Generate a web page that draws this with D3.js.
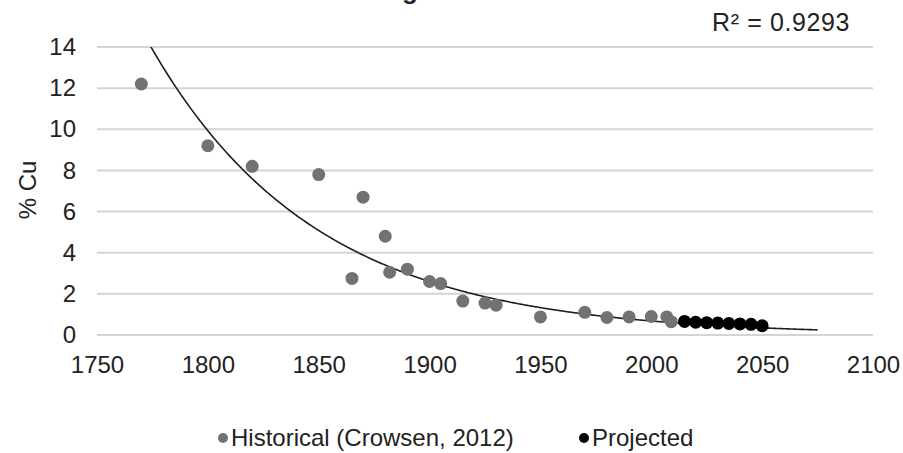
<!DOCTYPE html>
<html><head><meta charset="utf-8">
<script src="https://cdn.jsdelivr.net/npm/d3@7"></script>
<style>body{margin:0;background:#fff}svg{display:block}text{font-family:"Liberation Sans",Arial,sans-serif}</style>
</head><body><svg id="c" width="903" height="453"></svg>
<script>
const histYears = [1770,1800,1820,1850,1865,1870,1880,1882,1890,1900,1905,1915,1925,1930,1950,1970,1980,1990,2000,2007,2009];
const histValues = [12.2,9.2,8.2,7.8,2.75,6.7,4.8,3.05,3.2,2.6,2.5,1.65,1.55,1.45,0.88,1.1,0.85,0.88,0.9,0.88,0.65];
const projYears = [2015,2020,2025,2030,2035,2040,2045,2050];
const projValues = [0.66,0.62,0.6,0.58,0.56,0.54,0.52,0.45];
const xTicks = [1750,1800,1850,1900,1950,2000,2050,2100];
const yTicks = [0,2,4,6,8,10,12,14];
// exponential trendline as drawn in the picture: value = trendRefValue * exp(trendRate * (year - trendRefYear))
const trendRange = [1770,2075];
const trendRefYear = 1900, trendRefValue = 2.6, trendRate = -0.0134;
const r2Label = "R² = 0.9293";
const yTitle = "% Cu";
const chartTitle = "Ore grade";
const legendLabels = ["Historical (Crowsen, 2012)","Projected"];

const svg = d3.select("#c");
const x = d3.scaleLinear().domain([1750,2100]).range([97,873]);
const y = d3.scaleLinear().domain([0,14]).range([335,47]);
const FONT = '"Liberation Sans",Arial,sans-serif';

// gridlines
svg.append("g").selectAll("line").data(yTicks).join("line")
  .attr("x1",x(1750)).attr("x2",x(2100)).attr("y1",d=>y(d)).attr("y2",d=>y(d))
  .attr("stroke","#d4d4d4").attr("stroke-width",2);

// y axis labels
const ya = svg.append("g").attr("transform",`translate(${x(1750)-21},0)`)
  .call(d3.axisLeft(y).tickValues(yTicks).tickSize(0).tickPadding(0));
ya.select(".domain").remove();
ya.selectAll("text").attr("font-size",24).attr("fill","#222").attr("font-family",FONT);

// x axis labels
const xa = svg.append("g").attr("transform",`translate(0,${y(0)+21})`)
  .call(d3.axisBottom(x).tickValues(xTicks).tickFormat(d3.format("d")).tickSize(0).tickPadding(0));
xa.select(".domain").remove();
xa.selectAll("text").attr("font-size",24).attr("fill","#222").attr("font-family",FONT);

// trend line
const trendPts = d3.range(trendRange[0],trendRange[1]+0.5,0.5).map(t=>[t,trendRefValue*Math.exp(trendRate*(t-trendRefYear))]);
svg.append("clipPath").attr("id","pa").append("rect").attr("x",x(1750)).attr("y",y(14)).attr("width",x(2100)-x(1750)).attr("height",y(0)-y(14));
svg.append("path").attr("clip-path","url(#pa)").datum(trendPts)
  .attr("d",d3.line().x(d=>x(d[0])).y(d=>y(d[1])))
  .attr("fill","none").attr("stroke","#1e1e1e").attr("stroke-width",1.6);

// points
svg.append("g").selectAll("circle").data(histYears.map((t,i)=>[t,histValues[i]])).join("circle")
  .attr("cx",d=>x(d[0])).attr("cy",d=>y(d[1])).attr("r",6.5).attr("fill","#727272");
svg.append("g").selectAll("circle").data(projYears.map((t,i)=>[t,projValues[i]])).join("circle")
  .attr("cx",d=>x(d[0])).attr("cy",d=>y(d[1])).attr("r",6.5).attr("fill","#000");

// R2
svg.append("text").attr("x",850).attr("y",31).attr("text-anchor","end").attr("font-size",25).attr("letter-spacing",0.6).attr("fill","#222").text(r2Label);
// y title
svg.append("text").attr("transform","translate(36,190) rotate(-90)").attr("text-anchor","middle").attr("font-size",24).attr("fill","#222").text(yTitle);
// title (mostly cut off at top of the picture)
svg.append("text").attr("x",350).attr("y",-1.5).attr("text-anchor","start").attr("font-size",26).attr("font-weight","bold").attr("fill","#222").text(chartTitle);

// legend
const lg = svg.append("g");
lg.append("circle").attr("cx",223).attr("cy",438).attr("r",5).attr("fill","#727272");
lg.append("text").attr("x",231).attr("y",446).attr("font-size",24).attr("fill","#222").text(legendLabels[0]);
lg.append("circle").attr("cx",584).attr("cy",438).attr("r",5).attr("fill","#000");
lg.append("text").attr("x",592).attr("y",446).attr("font-size",24).attr("fill","#222").text(legendLabels[1]);
</script></body></html>
